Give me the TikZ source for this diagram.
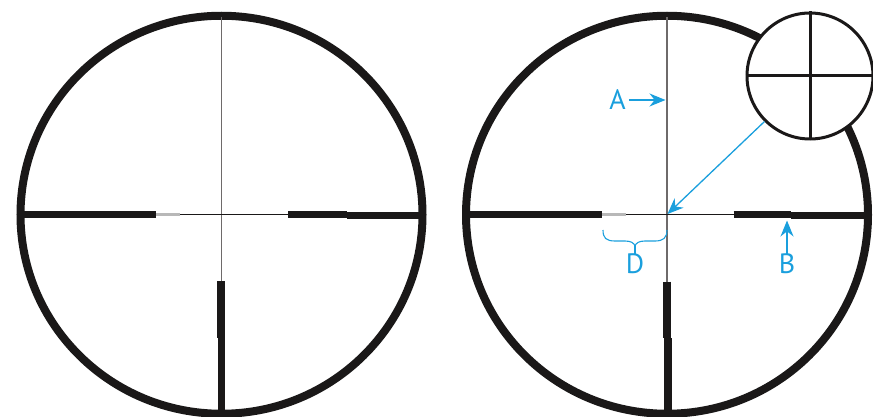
\documentclass[tikz,border=0pt]{standalone}
\usepackage{fontspec}
\setmainfont{PT Sans}
\usetikzlibrary{arrows.meta,shapes.geometric}
\definecolor{ink}{HTML}{1A1818}
\definecolor{sky}{HTML}{1A9FDD}
\definecolor{hair}{HTML}{6E6A6A}
\tikzset{
 x=1pt,y=-1pt,
 ring/.style={draw=ink,line width=8pt,ellipse,inner sep=0pt,minimum width=402pt,minimum height=398pt},
 bar/.style={ink,line width=6.8pt},
 post/.style={ink,line width=7.5pt},
 fade/.style={color=black!28,line width=3.5pt},
 thin line/.style={ink,line width=1.2pt},
 vline/.style={hair,line width=1.9pt},
 insetring/.style={draw=ink,fill=white,line width=3pt,circle,inner sep=0pt,minimum size=126pt},
 insetline/.style={ink,line width=3pt},
 callout/.style={sky,line width=1.3pt,-{Stealth[length=16pt,width=13pt]}},
 brace/.style={sky,line width=1.1pt},
 lbl/.style={text=sky,font=\fontsize{28}{28}\selectfont,inner sep=0pt},
}
\begin{document}
\begin{tikzpicture}
\useasboundingbox (0,0) rectangle (873,417);
% left reticle
\node[ring] (L) at (221.5,214.75) {};
\draw[vline] (221.5,17) -- (221.5,285);
\draw[thin line] (178,214.7) -- (290,214.7);
\draw[fade] (154,214.7) -- (180,214.7);
\draw[bar] (22,214.7) -- (155.5,214.7);
\draw[bar] (288,214.5) -- (347,214.5);
\draw[bar] (347,215.5) -- (421,215.5);
\draw[post] (220.9,281) -- (220.9,338);
\draw[post] (221.7,338) -- (221.7,412);
% right reticle
\node[ring] (R) at (667,214.75) {};
\draw[vline] (667.3,17) -- (667.3,285);
\draw[thin line] (624,214.7) -- (735,214.7);
\draw[fade] (600,214.7) -- (626,214.7);
\draw[bar] (468,214.7) -- (601.5,214.7);
\draw[bar] (733.5,214.8) -- (791,214.8);
\draw[bar] (791,215.6) -- (865,215.6);
\draw[post] (667.2,281.5) -- (667.2,338);
\draw[post] (668,338) -- (668,412);
% inset
\node[insetring] (I) at (810,76) {};
\draw[insetline] (I.north) -- (I.south);
\draw[insetline] (I.west) -- (I.east);
% callouts
\coordinate (cross) at (667.5,214);
\draw[callout] (I.225) -- (cross);
\node[lbl] (A) at (617.5,99.5) {A};
\coordinate (Atip) at (665.5,100);
\draw[callout] (A.east)+(3,0.5) -- (Atip);
\node[lbl] (B) at (787,264) {B};
\coordinate (Btip) at (787,220.5);
\draw[callout] (B.north) -- (Btip);
\node[lbl] (D) at (635,264) {D};
\coordinate (Dl) at (603,230);
\coordinate (Dr) at (667,230);
\draw[brace] (Dl) .. controls (603,238) and (606,241) .. (615,241) -- (625,241)
  .. controls (631,241) and (634,243) .. (635,246)
  .. controls (636,243) and (639,241) .. (645,241) -- (655,241)
  .. controls (663,241) and (667,238) .. (Dr);
\draw[brace] (635,246) -- (D.north);
\end{tikzpicture}
\end{document}
